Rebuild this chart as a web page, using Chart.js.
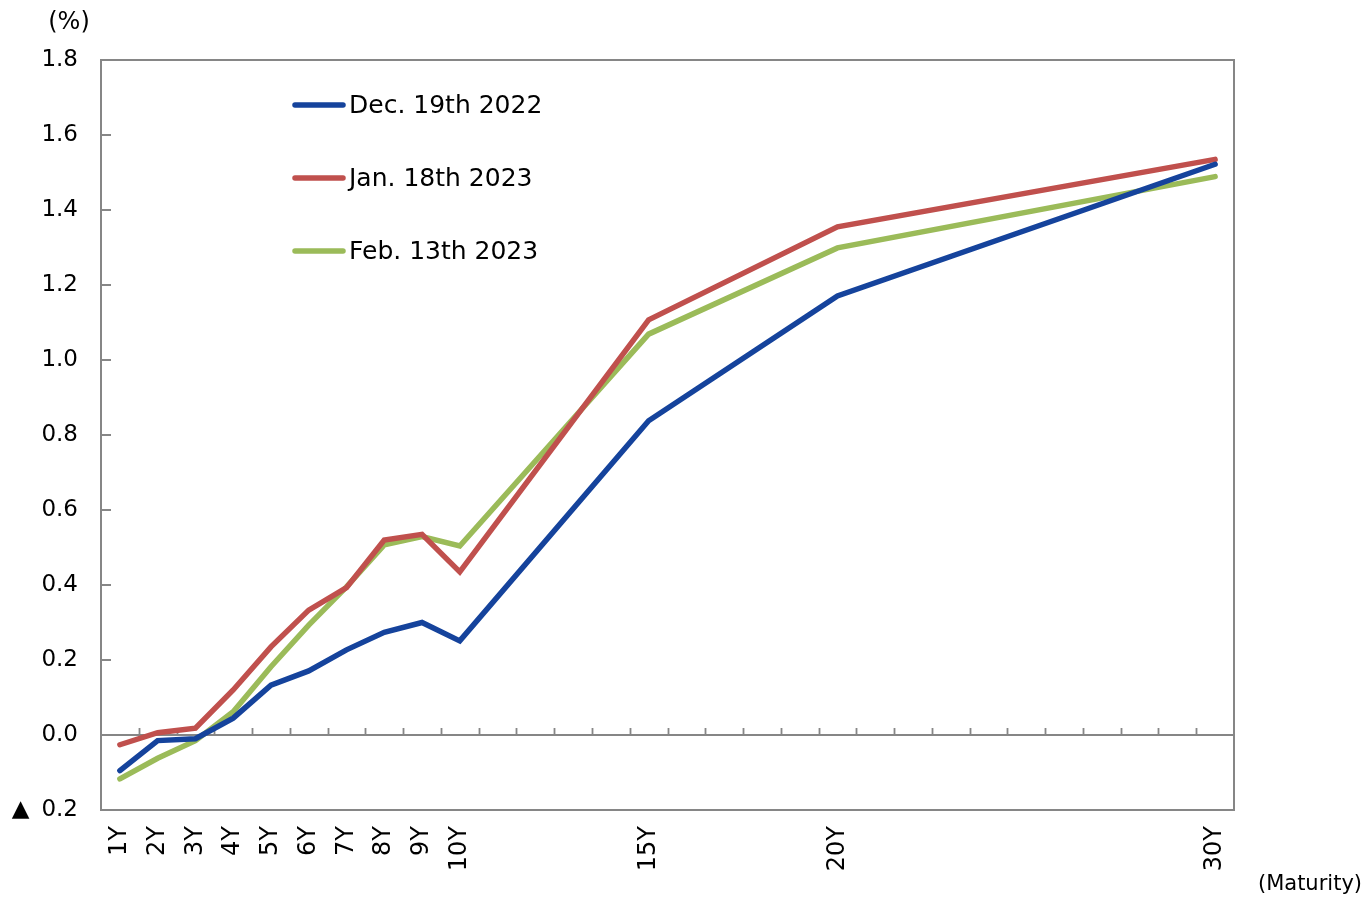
<!DOCTYPE html>
<html>
<head>
<meta charset="utf-8">
<title>JGB yield curve</title>
<script src="https://cdn.jsdelivr.net/npm/chart.js@4.4.1/dist/chart.umd.min.js"></script>
<style>
  html, body { margin: 0; padding: 0; background: #ffffff; }
  #wrap { position: relative; width: 1365px; height: 897px; }
</style>
</head>
<body>
<div id="wrap"><canvas id="curve"></canvas></div>
<script>
// Maturity axis: one category per year, 1Y to 30Y
const maturities = Array.from({ length: 30 }, (_, i) => (i + 1) + 'Y');
// Maturities that carry a label under the axis
const labelledMaturities = ['1Y','2Y','3Y','4Y','5Y','6Y','7Y','8Y','9Y','10Y','15Y','20Y','30Y'];
// Maturities with a quoted yield
const quotedMaturities = ['1Y','2Y','3Y','4Y','5Y','6Y','7Y','8Y','9Y','10Y','15Y','20Y','30Y'];

// Yields (%) by date
const dec19_2022 = [-0.095, -0.015, -0.010, 0.045, 0.133, 0.171, 0.227, 0.274, 0.300, 0.251, 0.838, 1.171, 1.522];
const jan18_2023 = [-0.026, 0.006, 0.018, 0.120, 0.235, 0.333, 0.393, 0.520, 0.535, 0.435, 1.107, 1.355, 1.535];
const feb13_2023 = [-0.117, -0.062, -0.015, 0.062, 0.182, 0.293, 0.395, 0.507, 0.529, 0.504, 1.069, 1.299, 1.489];

// Y axis range and step
const yMin = -0.2, yMax = 1.8, yStep = 0.2;

const seriesNames = ['Dec. 19th 2022', 'Jan. 18th 2023', 'Feb. 13th 2023'];
const seriesColors = ['#15439c', '#c0504d', '#9bbb59'];
const seriesValues = [dec19_2022, jan18_2023, feb13_2023];

const FONT = "'DejaVu Sans', Verdana, sans-serif";
const AXIS_GREY = '#868686';

function toPoints(values) {
  return quotedMaturities.map((m, i) => ({ x: m, y: values[i] }));
}

// Frame, zero line, inward tick marks and the in-plot legend
const framePlugin = {
  id: 'frame',
  beforeDatasetsDraw(chart) {
    const { ctx, chartArea: a, scales: { x, y } } = chart;
    ctx.save();
    ctx.strokeStyle = AXIS_GREY;
    ctx.lineWidth = 2;
    ctx.strokeRect(a.left, a.top, a.right - a.left, a.bottom - a.top);

    const y0 = Math.round(y.getPixelForValue(0));
    ctx.beginPath();
    ctx.moveTo(a.left, y0);
    ctx.lineTo(a.right, y0);
    ctx.stroke();

    // category boundaries on the zero line
    const half = (x.getPixelForValue(1) - x.getPixelForValue(0)) / 2;
    ctx.beginPath();
    for (let i = 0; i < maturities.length - 1; i++) {
      const px = Math.round(x.getPixelForValue(i) + half) + 0.5;
      ctx.moveTo(px, y0);
      ctx.lineTo(px, y0 - 7);
    }
    ctx.lineWidth = 1.8;
    ctx.stroke();

    // value ticks pointing into the plot
    ctx.beginPath();
    y.ticks.forEach(t => {
      const py = Math.round(y.getPixelForValue(t.value));
      ctx.moveTo(a.left, py);
      ctx.lineTo(a.left + 10, py);
    });
    ctx.lineWidth = 2;
    ctx.stroke();
    ctx.restore();
  },
  afterDraw(chart) {
    const { ctx } = chart;
    ctx.save();
    ctx.font = '25px ' + FONT;
    ctx.textBaseline = 'middle';
    ctx.textAlign = 'left';
    chart.data.datasets.forEach((ds, i) => {
      const cy = 105 + i * 73;
      ctx.strokeStyle = ds.borderColor;
      ctx.lineWidth = 5.5;
      ctx.lineCap = 'round';
      ctx.beginPath();
      ctx.moveTo(295, cy);
      ctx.lineTo(343, cy);
      ctx.stroke();
      ctx.fillStyle = '#000000';
      ctx.fillText(ds.label, 349, cy + 1);
    });

    ctx.font = '24px ' + FONT;
    ctx.textAlign = 'center';
    ctx.fillText('(%)', 69, 23);
    ctx.font = '21px ' + FONT;
    ctx.textAlign = 'right';
    ctx.fillText('(Maturity)', 1362, 885);
    ctx.restore();
  }
};

new Chart(document.getElementById('curve'), {
  type: 'line',
  data: {
    labels: maturities,
    datasets: seriesNames.map((name, i) => ({
      label: name,
      data: toPoints(seriesValues[i]),
      borderColor: seriesColors[i],
      backgroundColor: seriesColors[i],
      borderWidth: 5.5,
      pointRadius: 0,
      pointHoverRadius: 0,
      tension: 0,
      fill: false,
      borderCapStyle: 'round',
      borderJoinStyle: 'miter'
    }))
  },
  options: {
    responsive: true,
    maintainAspectRatio: false,
    devicePixelRatio: 1,
    animation: false,
    events: [],
    layout: { padding: { top: 60, right: 131, left: 0, bottom: 0 } },
    plugins: { legend: { display: false }, tooltip: { enabled: false } },
    scales: {
      x: {
        type: 'category',
        offset: true,
        grid: { display: false, drawTicks: false },
        border: { display: false },
        ticks: {
          autoSkip: false,
          maxRotation: 90,
          minRotation: 90,
          padding: 16,
          color: '#000000',
          font: { family: FONT, size: 24 },
          callback(value) {
            const lab = this.getLabelForValue(value);
            return labelledMaturities.includes(lab) ? lab : '';
          }
        },
        afterFit(scale) { scale.height = 87; }
      },
      y: {
        min: yMin,
        max: yMax,
        grid: { display: false, drawTicks: false },
        border: { display: false },
        ticks: {
          stepSize: yStep,
          padding: 23,
          color: '#000000',
          font: { family: FONT, size: 23 },
          callback(value) {
            const v = Math.round(value * 10) / 10;
            return v < 0 ? '\u25B2 \u2009' + Math.abs(v).toFixed(1) : v.toFixed(1);
          }
        },
        afterFit(scale) { scale.width = 101; }
      }
    }
  },
  plugins: [framePlugin]
});
</script>
</body>
</html>
